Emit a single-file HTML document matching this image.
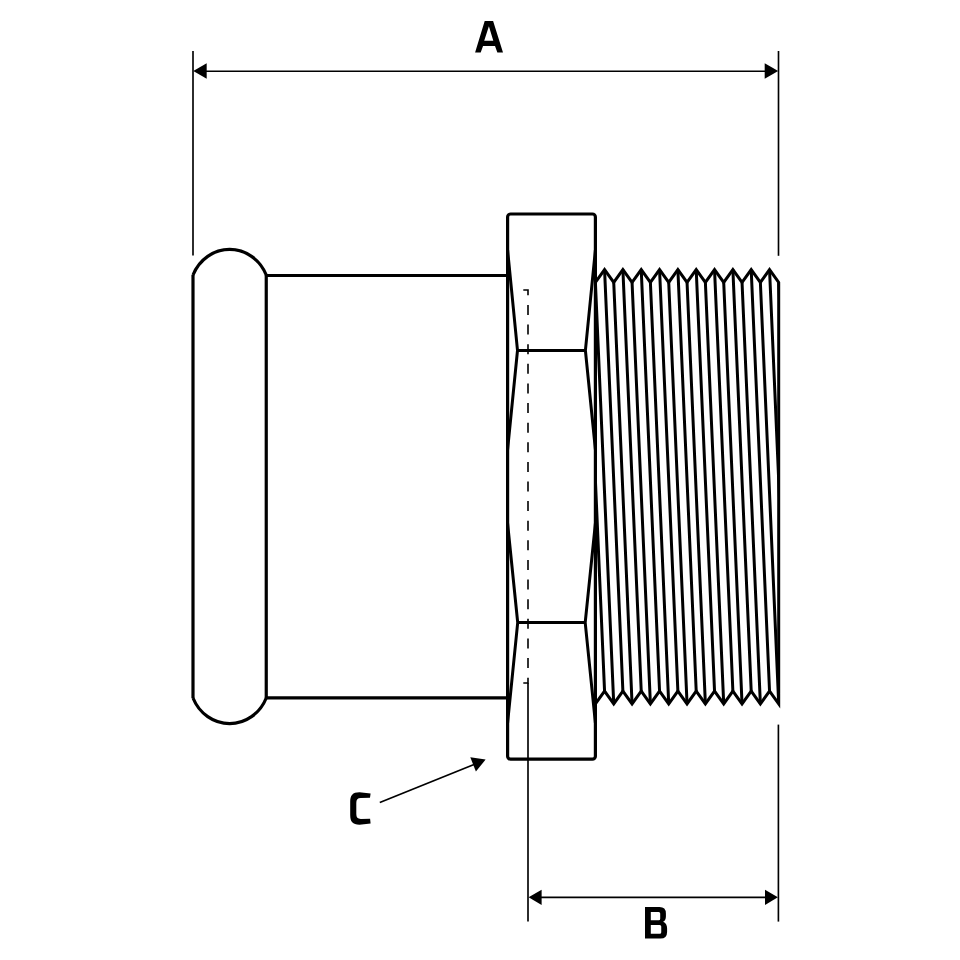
<!DOCTYPE html>
<html><head><meta charset="utf-8"><style>
html,body{margin:0;padding:0;background:#fff;width:960px;height:960px;overflow:hidden;font-family:"Liberation Sans",sans-serif}
svg{display:block}
</style></head><body>
<svg width="960" height="960" viewBox="0 0 960 960">
<defs><clipPath id="tc"><rect x="595.4" y="250" width="183.3" height="480"/></clipPath></defs>
<rect width="960" height="960" fill="#fff"/>
<g fill="none" stroke="#000" stroke-linejoin="miter" stroke-miterlimit="10">
 <!-- dimension A -->
 <g stroke-width="1.65">
  <path d="M193,51 V255.6"/>
  <path d="M778.5,51 V255.8"/>
  <path d="M205,71.2 H766"/>
  <path d="M528,683 V921.6"/>
  <path d="M778.4,724.6 V921.6"/>
  <path d="M540,897.3 H766"/>
  <path d="M379.8,802.6 L474,764.6"/>
 </g>
 <path stroke-width="1.6" stroke-dasharray="10 9.62" d="M523.3,290 H528 V683 H523.3"/>
 <!-- left press end -->
 <g stroke-width="3.2">
  <path d="M193,275 V698"/>
  <path d="M266.25,275 V698"/>
  <path d="M193,275 A39.9,42.5 0 0 1 266.25,275"/>
  <path d="M193,698 A39.9,42.5 0 0 0 266.25,698"/>
  <path d="M266.25,275.5 H507.6"/>
  <path d="M266.25,697.9 H507.6"/>
  <rect x="507.6" y="214" width="87.8" height="545.2" rx="3" ry="3"/>
 </g>
 <g stroke-width="3.0">
  <path d="M507.6,250 L517.5,350.4 L507.6,449.5 M507.6,523.4 L517.7,622.6 L507.6,722.9"/>
  <path d="M595.4,250 L585.4,350.4 L595.4,449.5 M595.4,523.4 L585.2,622.6 L595.4,722.9"/>
  <path d="M517.5,350.4 H585.4 M517.7,622.6 H585.2"/>
 </g>
 <!-- threads -->
 <g stroke-width="3.0">
  <path clip-path="url(#tc)" d="M558.74,282.4 L577.07,703.9 M567.9,269.6 L586.24,691.1 M577.07,282.4 L595.4,703.9 M586.24,269.6 L604.56,691.1 M595.4,282.4 L613.73,703.9 M604.56,269.6 L622.89,691.1 M613.73,282.4 L632.06,703.9 M622.89,269.6 L641.23,691.1 M632.06,282.4 L650.39,703.9 M641.23,269.6 L659.55,691.1 M650.39,282.4 L668.72,703.9 M659.55,269.6 L677.88,691.1 M668.72,282.4 L687.05,703.9 M677.88,269.6 L696.21,691.1 M687.05,282.4 L705.38,703.9 M696.21,269.6 L714.54,691.1 M705.38,282.4 L723.71,703.9 M714.54,269.6 L732.88,691.1 M723.71,282.4 L742.04,703.9 M732.88,269.6 L751.2,691.1 M742.04,282.4 L760.37,703.9 M751.2,269.6 L769.53,691.1 M760.37,282.4 L778.7,703.9 M769.53,269.6 L787.87,691.1 M778.7,282.4 L797.03,703.9"/>
  <path d="M595.4,282.4 L604.56,269.6 L613.73,282.4 L622.89,269.6 L632.06,282.4 L641.23,269.6 L650.39,282.4 L659.55,269.6 L668.72,282.4 L677.88,269.6 L687.05,282.4 L696.21,269.6 L705.38,282.4 L714.54,269.6 L723.71,282.4 L732.88,269.6 L742.04,282.4 L751.2,269.6 L760.37,282.4 L769.53,269.6 L778.7,282.4 L778.7,703.9 L778.7,703.9 L769.53,691.1 L760.37,703.9 L751.2,691.1 L742.04,703.9 L732.88,691.1 L723.71,703.9 L714.54,691.1 L705.38,703.9 L696.21,691.1 L687.05,703.9 L677.88,691.1 L668.72,703.9 L659.55,691.1 L650.39,703.9 L641.23,691.1 L632.06,703.9 L622.89,691.1 L613.73,703.9 L604.56,691.1 L595.4,703.9"/>
 </g>
</g>
<g fill="#000">
 <path d="M193.3,71 L206.7,63.2 L206.7,78.8 Z"/>
 <path d="M778.2,71 L764.7,63.2 L764.7,78.8 Z"/>
 <path d="M528.6,897.3 L541.6,889.7 L541.6,905 Z"/>
 <path d="M777.9,897.3 L765,889.7 L765,905 Z"/>
 <path d="M485.6,759.6 L470.3,757.3 L475.9,771.6 Z"/>
 <!-- A -->
 <path d="M484.7,21 L493.1,21 L503,52.5 L497.35,52.5 L495,45.9 L483.05,45.9 L480.7,52.5 L475.1,52.5 Z M488.9,26.3 L484.2,40.8 L493.3,40.8 Z" fill-rule="evenodd"/>
 <!-- B -->
 <path fill-rule="evenodd" d="M645,907.1 H659.5 Q665.9,907.1 665.9,913.5 V916.5 Q665.9,920.5 663.1,921.8 Q667.1,923.5 667.1,928.5 V932 Q667.1,938.6 660.5,938.6 H645 Z M650.8,912 V920.3 H658.7 Q660.2,920.3 660.2,918.8 V913.5 Q660.2,912 658.7,912 Z M650.8,925.1 V933.8 H659.7 Q661.25,933.8 661.25,932.3 V926.6 Q661.25,925.1 659.7,925.1 Z"/>
 <!-- C -->
 <path d="M370.6,793.4 L370,797.8 L360.8,797.9 C357.6,797.9 356.3,799.6 356.3,803 V814 C356.3,817.3 357.6,818.9 360.8,818.9 L370.1,818.8 L370.6,823.6 L359.5,824.7 C352.5,824.7 350.2,821.5 350.2,815 V802 C350.2,795.3 352.5,792.2 359.5,792.2 Z"/>
</g>
</svg>
</body></html>
